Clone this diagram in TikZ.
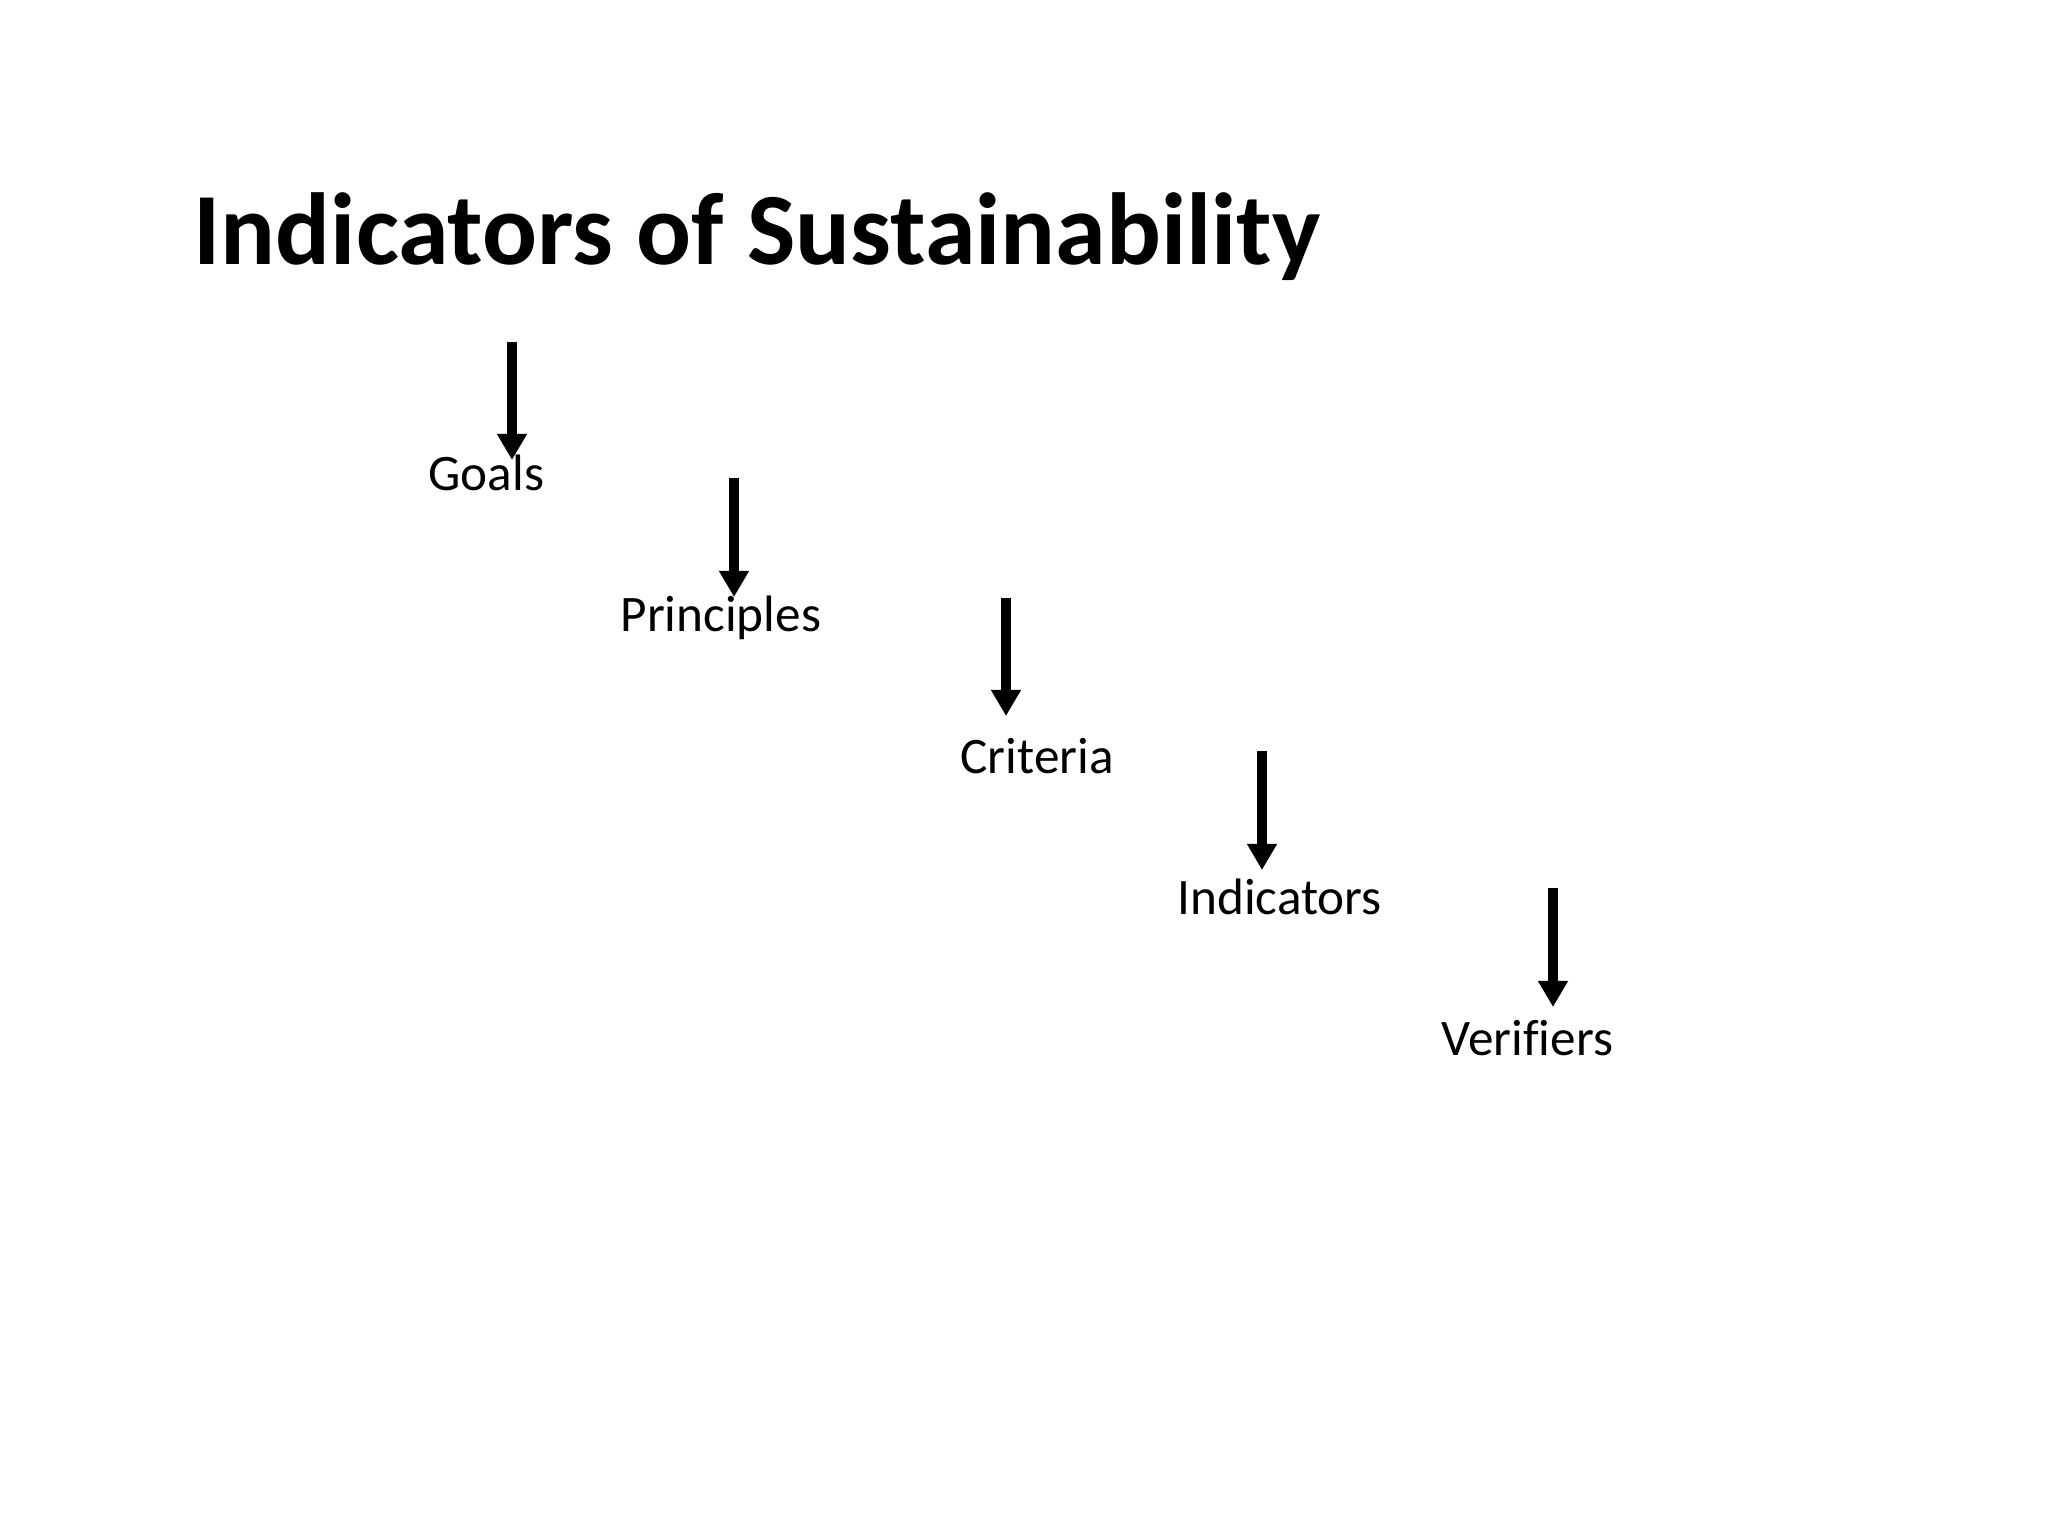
\documentclass[tikz,border=0pt]{standalone}
\usepackage{fontspec}
\setmainfont{Carlito}[Ligatures=CommonOff]
\usetikzlibrary{positioning, arrows.meta}

\begin{document}
\begin{tikzpicture}[
  x=0.3515625pt, y=-0.3515625pt,
  heading/.style={font=\fontsize{36}{43}\selectfont\bfseries, anchor=base west, inner sep=0pt},
  level/.style={font=\fontsize{18}{22}\selectfont, anchor=base west, inner sep=0pt},
  flowarrow/.style={line width=3.2pt, -{Triangle[length=9.2pt, width=10pt]}},
]
  \useasboundingbox[fill=white] (0,0) rectangle (2048,1536);

  % title
  \node[heading] (title) at (193,265) {Indicators of Sustainability};

  % levels
  \node[level] (goals) at (428,491) {Goals};
  \node[level] (principles) at (620,632) {Principles};
  \node[level] (criteria) at (960,773) {Criteria};
  \node[level] (indicators) at (1177,914) {Indicators};
  \node[level] (verifiers) at (1441,1055) {Verifiers};

  % arrow ends
  \coordinate (goalsin) at (512,342);
  \coordinate (goalstip) at (512,460);
  \coordinate (principlesin) at (734,478);
  \coordinate (principlestip) at (734,597);
  \coordinate (criteriain) at (1006,598);
  \coordinate (criteriatip) at (1006,716);
  \coordinate (indicatorsin) at (1262,751);
  \coordinate (indicatorstip) at (1262,870);
  \coordinate (verifiersin) at (1553,888);
  \coordinate (verifierstip) at (1553,1007);

  % arrows
  \draw[flowarrow] (goalsin) -- (goalstip);
  \draw[flowarrow] (principlesin) -- (principlestip);
  \draw[flowarrow] (criteriain) -- (criteriatip);
  \draw[flowarrow] (indicatorsin) -- (indicatorstip);
  \draw[flowarrow] (verifiersin) -- (verifierstip);
\end{tikzpicture}
\end{document}
